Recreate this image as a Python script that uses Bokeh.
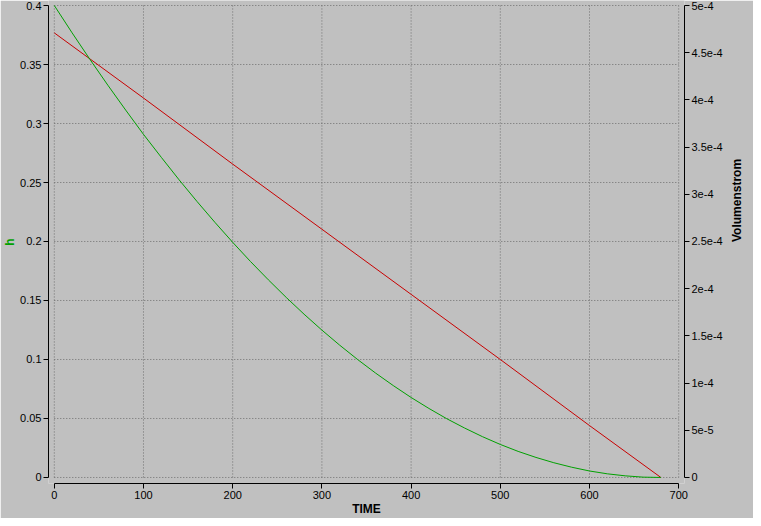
import math
from bokeh.plotting import figure
from bokeh.models import Range1d, LinearAxis, FixedTicker
from bokeh.embed import file_html
from bokeh.resources import INLINE

# ---- data ----
time_h = [0, 20, 40, 60, 80, 100, 120, 140, 160, 180, 200, 220, 240, 260, 280,
          300, 320, 340, 360, 380, 400, 420, 440, 460, 480, 500, 520, 540, 560,
          580, 600, 620, 640, 660, 680]
h_vals = [0.4, 0.3768, 0.3543, 0.3325, 0.3114, 0.2908, 0.2713, 0.2522, 0.2339,
          0.2163, 0.1993, 0.1830, 0.1675, 0.1526, 0.1384, 0.1249, 0.1121, 0.1000,
          0.0886, 0.0779, 0.0678, 0.0585, 0.0498, 0.0419, 0.0346, 0.0280, 0.0221,
          0.0170, 0.0125, 0.0087, 0.0055, 0.0031, 0.0014, 0.0003, 0.0]

time_q = [0, 100, 200, 300, 400, 500, 600, 680]
q_vals = [4.71e-4, 4.02e-4, 3.32e-4, 2.63e-4, 1.94e-4, 1.25e-4, 0.55e-4, 0.0]

x_ticks = [0, 100, 200, 300, 400, 500, 600, 700]
x_tick_labels = ["0", "100", "200", "300", "400", "500", "600", "700"]
h_ticks = [0, 0.05, 0.1, 0.15, 0.2, 0.25, 0.3, 0.35, 0.4]
h_tick_labels = ["0", "0.05", "0.1", "0.15", "0.2", "0.25", "0.3", "0.35", "0.4"]
q_ticks = [0, 0.00005, 0.0001, 0.00015, 0.0002, 0.00025, 0.0003, 0.00035,
           0.0004, 0.00045, 0.0005]
q_tick_labels = ["0", "5e-5", "1e-4", "1.5e-4", "2e-4", "2.5e-4", "3e-4",
                 "3.5e-4", "4e-4", "4.5e-4", "5e-4"]

BG = "#c0c0c0"
GREEN = "#00a000"
RED = "#c80000"
FONT = "Liberation Sans"

Y0, Y1 = -0.0051, 0.40425
p = figure(width=753, height=518,
           x_range=Range1d(-6.5, 706.5),
           y_range=Range1d(Y0, Y1),
           output_backend="svg", toolbar_location=None,
           background_fill_color=BG, border_fill_color=BG,
           min_border_left=0, min_border_right=0,
           min_border_top=0, min_border_bottom=0)
p.extra_y_ranges = {"q": Range1d(Y0 * 1.25e-3, Y1 * 1.25e-3)}
p.outline_line_color = None
p.grid.visible = False

# dotted grid restricted to the data area
p.segment(x0=x_ticks, y0=[h_ticks[0]] * len(x_ticks),
          x1=x_ticks, y1=[h_ticks[-1]] * len(x_ticks),
          line_color="#6e6e6e", line_width=1, line_dash="1 2")
p.segment(x0=[x_ticks[0]] * len(h_ticks), y0=h_ticks,
          x1=[x_ticks[-1]] * len(h_ticks), y1=h_ticks,
          line_color="#6e6e6e", line_width=1, line_dash="1 2")

p.line(time_q, q_vals, line_color=RED, line_width=1, y_range_name="q")
p.line(time_h, h_vals, line_color=GREEN, line_width=1)

def style(ax, ticks, labels, bounds):
    ax.ticker = FixedTicker(ticks=ticks)
    ax.major_label_overrides = {t: l for t, l in zip(ticks, labels)}
    ax.bounds = bounds
    ax.minor_tick_line_color = None
    ax.major_tick_in = 0
    ax.major_tick_out = 5
    ax.axis_line_color = "black"
    ax.axis_line_width = 1
    ax.major_tick_line_color = "black"
    ax.major_tick_line_width = 1
    ax.major_label_text_font = FONT
    ax.major_label_text_font_size = "11px"
    ax.major_label_text_color = "black"
    ax.major_label_standoff = 2
    ax.axis_label_text_font = FONT
    ax.axis_label_text_font_size = "12px"
    ax.axis_label_text_font_style = "bold"
    ax.axis_label_text_color = "black"
    ax.axis_label_standoff = 0

xa = p.xaxis[0]
style(xa, x_ticks, x_tick_labels, (0, 700))
xa.axis_label = "TIME"

ya = p.yaxis[0]
style(ya, h_ticks, h_tick_labels, (0, 0.4))
ya.axis_label = "h"
ya.axis_label_text_color = GREEN

ra = LinearAxis(y_range_name="q")
style(ra, q_ticks, q_tick_labels, (0, 0.0005))
ra.axis_label = "Volumenstrom"
ra.axis_label_orientation = math.pi / 2   # reads bottom-to-top
ra.axis_label_standoff = 11
p.add_layout(ra, "right")

open("out.html", "w").write(file_html(p, INLINE))
